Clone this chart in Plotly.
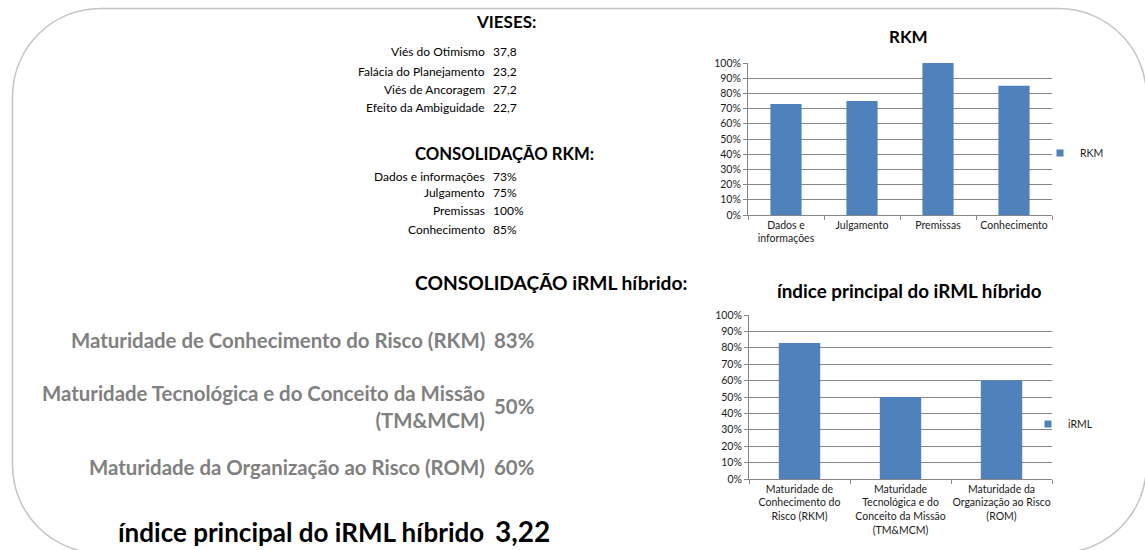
import plotly.graph_objects as go

# ---------------- data ----------------
vieses_labels = ["Viés do Otimismo", "Falácia do Planejamento", "Viés de Ancoragem", "Efeito da Ambiguidade"]
vieses_values = [37.8, 23.2, 27.2, 22.7]

rkm_labels = ["Dados e informações", "Julgamento", "Premissas", "Conhecimento"]
rkm_ticktext = ["Dados e<br>informações", "Julgamento", "Premissas", "Conhecimento"]
rkm_values = [0.73, 0.75, 1.00, 0.85]

irml_labels = [
    "Maturidade de Conhecimento do Risco (RKM)",
    "Maturidade Tecnológica e do Conceito da Missão (TM&MCM)",
    "Maturidade da Organização ao Risco (ROM)",
]
irml_side_text = [
    "Maturidade de Conhecimento do Risco (RKM)",
    "Maturidade Tecnológica e do Conceito da Missão<br>(TM&MCM)",
    "Maturidade da Organização ao Risco (ROM)",
]
irml_ticktext = [
    "Maturidade de<br>Conhecimento do<br>Risco (RKM)",
    "Maturidade<br>Tecnológica e do<br>Conceito da Missão<br>(TM&MCM)",
    "Maturidade da<br>Organização ao Risco<br>(ROM)",
]
irml_values = [0.83, 0.50, 0.60]
irml_index = 3.22

# ---------------- page geometry ----------------
W, H = 1145, 550
FONT = "Lato"
BAR = "#4F81BD"
GRID = "#868686"


def px(x):
    return x / W


def py(y):
    return 1 - y / H


def pct(v):
    return f"{round(v * 100)}%"


def dec(v, n=1):
    return f"{v:.{n}f}".replace(".", ",")


fig = go.Figure()

fig.add_trace(go.Bar(
    x=rkm_labels, y=rkm_values, name="RKM", marker_color=BAR,
    xaxis="x", yaxis="y", showlegend=False,
))
fig.add_trace(go.Bar(
    x=irml_labels, y=irml_values, name="iRML",
    marker_color=BAR, xaxis="x2", yaxis="y2", showlegend=False,
))
# legend keys: small square swatches in the series colour
for name, lg, xa, ya in [("RKM", "legend", "x", "y"), ("iRML", "legend2", "x2", "y2")]:
    fig.add_trace(go.Scatter(
        x=[None], y=[None], mode="markers", name=name, legend=lg, xaxis=xa, yaxis=ya,
        marker=dict(symbol="square", size=7, color=BAR),
    ))

axis_common = dict(
    showline=True, linecolor=GRID, linewidth=1, ticks="outside", tickcolor=GRID,
    ticklen=4, automargin=False,
    tickfont=dict(family=FONT, size=10.5, color="#1a1a1a"),
)

fig.update_layout(
    template="none",
    width=W, height=H, margin=dict(l=0, r=0, t=0, b=0, pad=0),
    paper_bgcolor="white", plot_bgcolor="white",
    bargap=0.59,
    xaxis=dict(domain=[px(748), px(1052)], anchor="y", tickson="boundaries",
               type="category", categoryorder="array", categoryarray=rkm_labels,
               tickvals=rkm_labels, ticktext=rkm_ticktext, showgrid=False,
               tickangle=0, **axis_common),
    yaxis=dict(domain=[py(215), py(63)], anchor="x", range=[0, 1], dtick=0.1,
               tickformat=".0%", showgrid=True, gridcolor=GRID, gridwidth=1,
               zeroline=False, **axis_common),
    xaxis2=dict(domain=[px(749), px(1052)], anchor="y2", tickson="boundaries",
                type="category", categoryorder="array", categoryarray=irml_labels,
                tickvals=irml_labels, ticktext=irml_ticktext, showgrid=False,
                tickangle=0, **axis_common),
    yaxis2=dict(domain=[py(479), py(315)], anchor="x2", range=[0, 1], dtick=0.1,
                tickformat=".0%", showgrid=True, gridcolor=GRID, gridwidth=1,
                zeroline=False, **axis_common),
    legend=dict(x=px(1040), y=py(153), xanchor="left", yanchor="middle",
                font=dict(family=FONT, size=10.5, color="#1a1a1a"),
                bgcolor="rgba(0,0,0,0)", itemwidth=30),
    legend2=dict(x=px(1028), y=py(424), xanchor="left", yanchor="middle",
                 font=dict(family=FONT, size=10.5, color="#1a1a1a"),
                 bgcolor="rgba(0,0,0,0)", itemwidth=30),
    showlegend=True,
)

ann = []


def text(x, y, s, size, color="#000000", bold=False, xanchor="left", align="left"):
    ann.append(dict(
        xref="paper", yref="paper", x=px(x), y=py(y), text=f"<b>{s}</b>" if bold else s,
        showarrow=False, xanchor=xanchor, yanchor="middle", align=align,
        font=dict(family=FONT, size=size, color=color),
    ))


# chart titles
text(908, 37, "RKM", 17, bold=True, xanchor="center")
text(909, 290, "índice principal do iRML híbrido", 18.8, bold=True, xanchor="center")

# biases block
text(506, 21, "VIESES:", 17, bold=True, xanchor="center")
for lab, val, y in zip(vieses_labels, vieses_values, [51, 72, 90, 107]):
    text(487, y, lab, 12, xanchor="right", align="right")
    text(491, y, dec(val), 12)

# RKM consolidation block
text(505, 154, "CONSOLIDAÇÃO RKM:", 16.7, bold=True, xanchor="center")
for lab, val, y in zip(rkm_labels, rkm_values, [177, 193, 211, 229]):
    text(487, y, lab, 12, xanchor="right", align="right")
    text(491, y, pct(val), 12)

# hybrid iRML consolidation block
text(551, 282, "CONSOLIDAÇÃO iRML híbrido:", 19.2, bold=True, xanchor="center")
GREY = "#808080"
for lab, val, y in zip(irml_side_text, irml_values, [340, 406, 467]):
    text(487, y, lab, 20.4, color=GREY, bold=True, xanchor="right", align="right")
    text(492, y, pct(val), 20.4, color=GREY, bold=True)

# headline index, kept inside the bottom edge
text(486, 532, "índice principal do iRML híbrido", 26, bold=True, xanchor="right", align="right")
text(493, 531, dec(irml_index, 2), 28, bold=True)

fig.update_layout(annotations=ann)

# rounded frame around the panel
L, T, R, B, r = 12.5, 8.5, 1146.5, 553, 88
k = 0.5523 * r


def P(x, y):
    return f"{px(x):.5f},{py(y):.5f}"


path = (
    f"M{P(L + r, T)} L{P(R - r, T)} "
    f"C{P(R - r + k, T)} {P(R, T + r - k)} {P(R, T + r)} "
    f"L{P(R, B - r)} "
    f"C{P(R, B - r + k)} {P(R - r + k, B)} {P(R - r, B)} "
    f"L{P(L + r, B)} "
    f"C{P(L + r - k, B)} {P(L, B - r + k)} {P(L, B - r)} "
    f"L{P(L, T + r)} "
    f"C{P(L, T + r - k)} {P(L + r - k, T)} {P(L + r, T)} Z"
)
fig.add_shape(type="path", path=path, xref="paper", yref="paper",
              line=dict(color="#c4c4c4", width=1.5), layer="below")

fig.write_html("out.html")
